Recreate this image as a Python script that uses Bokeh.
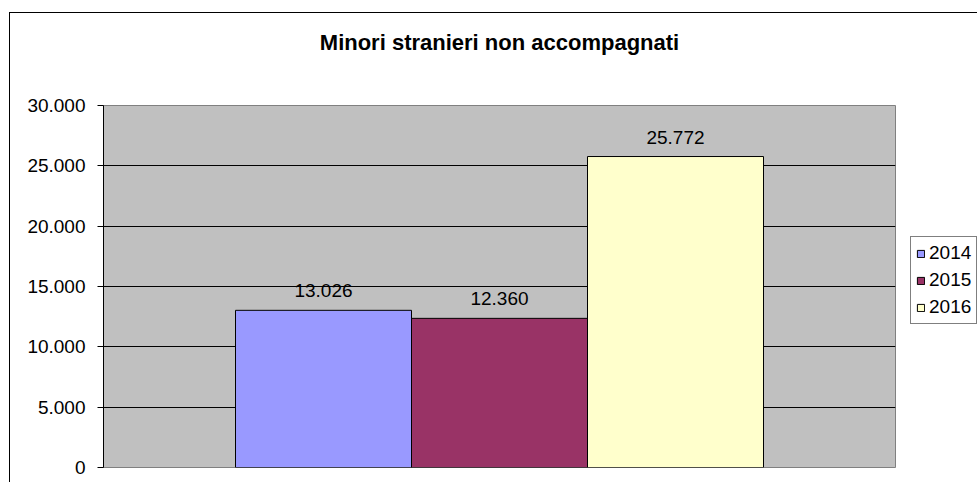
from bokeh.plotting import figure
from bokeh.models import (ColumnDataSource, FactorRange, Range1d, FixedTicker,
                          CustomJSTickFormatter, LabelSet, Legend, LegendItem, Title)
from bokeh.core.properties import value
from bokeh.embed import file_html
from bokeh.resources import INLINE

title = "Minori stranieri non accompagnati"
years = ["2014", "2015", "2016"]
values = [13026, 12360, 25772]
colors = ["#9999FF", "#993366", "#FFFFCC"]
y_ticks = [0, 5000, 10000, 15000, 20000, 25000, 30000]

FONT = "Liberation Sans"

labels = [f"{v:,}".replace(",", ".") for v in values]
src = ColumnDataSource(dict(year=years, value=values, color=colors, label=labels))

p = figure(width=959, height=469, frame_width=792, frame_height=362,
           output_backend="svg", toolbar_location=None,
           x_range=FactorRange(*years, range_padding=0.5),
           y_range=Range1d(0, 30000),
           min_border_left=93, min_border_right=74, min_border_top=92,
           min_border_bottom=15, background_fill_color="#C0C0C0",
           border_fill_color="white", title=None)
p.styles = {"margin-left": "9px", "margin-top": "12px",
            "border-left": "1px solid black", "border-top": "1px solid black"}

# spacer between the title and the plot area, then the title itself
p.add_layout(Title(text=" ", text_font_size="1px", standoff=48), "above")
p.add_layout(Title(text=title, align="center", vertical_align="bottom",
                   text_font=FONT, text_font_size="22px", text_font_style="bold",
                   text_color="black", standoff=0), "above")

r = p.vbar(x="year", top="value", width=1.0, source=src, fill_color="color",
           line_color="black", line_width=1)

p.add_layout(LabelSet(x="year", y="value", text="label", source=src,
                      y_offset=13, text_align="center", text_baseline="alphabetic",
                      text_font=value(FONT), text_font_size=value("19px"),
                      text_color="black"))

p.xaxis.visible = False
p.xgrid.visible = False
p.ygrid.ticker = FixedTicker(ticks=y_ticks[1:-1])
p.ygrid.grid_line_color = "black"
p.ygrid.grid_line_width = 1

ax = p.yaxis[0]
ax.ticker = FixedTicker(ticks=y_ticks)
ax.formatter = CustomJSTickFormatter(code="return tick.toFixed(0).replace(/\\B(?=(\\d{3})+(?!\\d))/g, '.');")
ax.major_label_text_font = FONT
ax.major_label_text_font_size = "19px"
ax.major_label_text_color = "black"
ax.major_label_standoff = 12
ax.major_tick_out = 6
ax.major_tick_in = 0
ax.minor_tick_out = 0
ax.minor_tick_in = 0
ax.axis_line_color = "black"
ax.major_tick_line_color = "black"

p.outline_line_color = "#808080"
p.outline_line_width = 1

items = [LegendItem(label=y, renderers=[r], index=i) for i, y in enumerate(years)]
leg = Legend(items=items, location=(15, 143), orientation="vertical",
             border_line_color="black", border_line_width=1,
             background_fill_color="white", background_fill_alpha=1,
             label_text_font=FONT, label_text_font_size="19px",
             label_text_color="black", glyph_width=9, glyph_height=9,
             label_standoff=4, padding=5, spacing=5, margin=0)
p.add_layout(leg, "right")

open("out.html", "w").write(file_html(p, INLINE))
